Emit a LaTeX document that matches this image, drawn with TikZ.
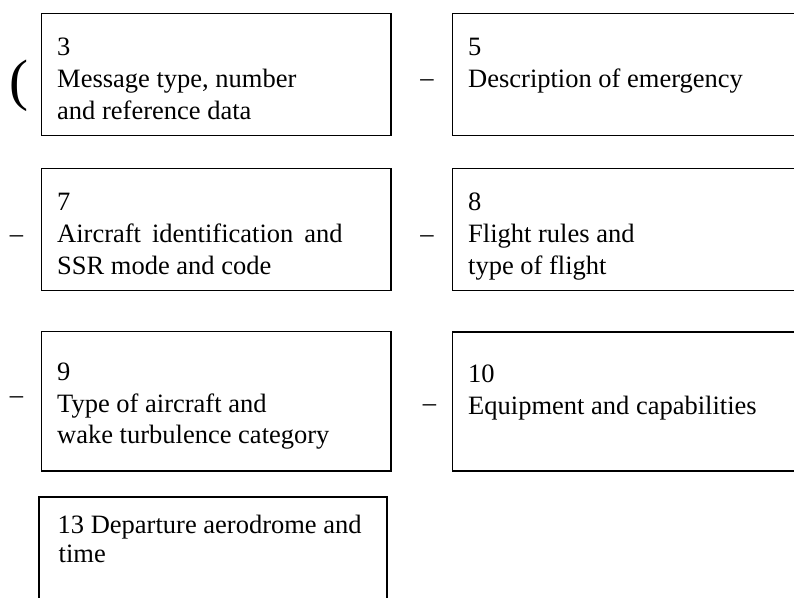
\documentclass[tikz,border=0pt]{standalone}
\usepackage{fontspec}
\setmainfont{Liberation Serif}
\begin{document}
\begin{tikzpicture}[x=1pt,y=-1pt,
  boxshape/.style={draw, line width=1.3pt, rectangle, inner sep=0pt, outer sep=0pt, anchor=north west},
  thickbox/.style={boxshape, line width=2.3pt},
  txt/.style={inner sep=0pt, anchor=base west, font=\fontsize{26.5}{32}\selectfont},
  sepmark/.style={inner sep=0pt, anchor=base, font=\fontsize{26.5}{32}\selectfont},
  paren/.style={inner sep=0pt, anchor=base, font=\fontsize{57}{60}\selectfont}]
\useasboundingbox (0,0) rectangle (794,597);
\fill[white] (0,0) rectangle (794,597);
\clip (0,0) rectangle (794,597);

% row 1
\node[paren] (p1) at (19,99.6) {(};
\node[boxshape, minimum width=349.8pt, minimum height=122.3pt] (b3) at (41.2,13.5) {};
\node[txt] (t3a) at (57,55) {3};
\node[txt] (t3b) at (57,87.3) {Message type, number};
\node[txt] (t3c) at (57,119.3) {and reference data};
\node[sepmark] (d5) at (427,86.4) {–};
\node[boxshape, minimum width=360pt, minimum height=122.3pt] (b5) at (452.5,13.5) {};
\node[txt] (t5a) at (468,55) {5};
\node[txt] (t5b) at (468,87.3) {Description of emergency};

% row 2
\node[sepmark] (d7) at (16.5,242.4) {–};
\node[boxshape, minimum width=349.8pt, minimum height=122.4pt] (b7) at (41.2,168.3) {};
\node[txt] (t7a) at (57,210) {7};
\node[txt] (t7b) at (57,242.5) {\makebox[285.5pt][s]{Aircraft identification and}};
\node[txt] (t7c) at (57,274.5) {SSR mode and code};
\node[sepmark] (d8) at (427,242.4) {–};
\node[boxshape, minimum width=360pt, minimum height=122.4pt] (b8) at (452.5,168.3) {};
\node[txt] (t8a) at (468,210) {8};
\node[txt] (t8b) at (468,242) {Flight rules and};
\node[txt] (t8c) at (468,274) {type of flight};

% row 3
\node[sepmark] (d9) at (16.5,403.4) {–};
\node[boxshape, minimum width=349.8pt, minimum height=139.3pt] (b9) at (41.2,331.7) {};
\node[txt] (t9a) at (57,380) {9};
\node[txt] (t9b) at (57,412) {Type of aircraft and};
\node[txt] (t9c) at (57,443.5) {wake turbulence category};
\node[sepmark] (d10) at (429.5,411.4) {–};
\node[boxshape, minimum width=360pt, minimum height=139pt] (b10) at (452.5,332) {};
\node[txt] (t10a) at (468,382.5) {10};
\node[txt] (t10b) at (468,414) {Equipment and capabilities};

% row 4
\node[thickbox, minimum width=348.1pt, minimum height=130pt] (b13) at (39.2,496.8) {};
\node[txt] (t13a) at (57.5,533) {13 Departure aerodrome and};
\node[txt] (t13b) at (58.5,562) {time};
\end{tikzpicture}
\end{document}
